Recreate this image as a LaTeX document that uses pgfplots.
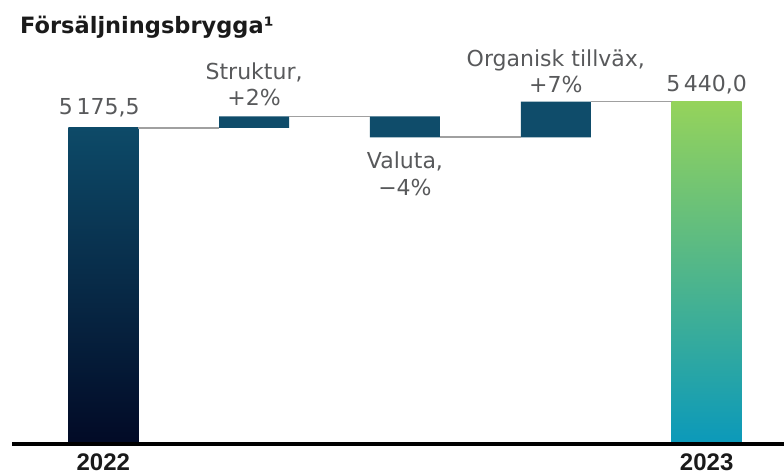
\documentclass[border=0pt]{standalone}
\usepackage{pgfplots}
\pgfplotsset{compat=1.18}
\usepackage{fontspec}
\setmainfont{DejaVu Sans}
\newfontfamily\yearfont{Liberation Sans}
\definecolor{barblue}{HTML}{0F4C6A}
\definecolor{navytop}{HTML}{0D4A68}
\definecolor{navybot}{HTML}{020A26}
\definecolor{greentop}{HTML}{95D35B}
\definecolor{greenmid}{HTML}{40AC92}
\definecolor{cyanbot}{HTML}{0B99BA}
\definecolor{lblgray}{HTML}{58595B}
\definecolor{titleblack}{HTML}{1A1A1A}
\definecolor{conngray}{HTML}{A0A0A0}
\tikzset{lbl/.style={font=\fontsize{22}{26}\selectfont, text=lblgray, anchor=base, inner sep=0pt}}
\begin{document}
\begin{tikzpicture}[x=1pt,y=1pt]
\useasboundingbox (0,0) rectangle (784,475);
\clip (0,0) rectangle (784,475);
\pgfplotsset{wf/.style={scale only axis, width=771.9pt, height=400pt,
  xmin=-0.605, xmax=4.512, ymin=2000, ymax=6024,
  at={(12pt,31.5pt)}, anchor=south west}}
% floating bars
\begin{axis}[wf, axis lines=none, ybar stacked, bar width=70pt]
\addplot[draw=none, fill=none] coordinates {(1,5175.5) (2,5080.5) (3,5080.5)};
\addplot[draw=none, fill=barblue] coordinates {(1,115) (2,210) (3,359.5)};
\end{axis}
% total bars with gradient
\begin{axis}[wf, ymin=0, ymax=4024, axis lines=none]
\addplot[ybar, bar width=70pt, bar shift=0pt, draw=none, top color=navytop, bottom color=navybot,
  y filter/.expression={y-2000}] coordinates {(0,5175.5)};
\addplot[ybar, bar width=70pt, bar shift=0pt, draw=none, top color=greentop, middle color=greenmid, bottom color=cyanbot,
  y filter/.expression={y-2000}] coordinates {(4,5440)};
\end{axis}
% connectors, labels, axis line
\begin{axis}[wf, clip=false, axis x line=bottom, axis y line=none,
  axis line style={line width=4pt, -, black},
  xtick={0,4}, xticklabels={2022,2023}, major tick length=0pt,
  xticklabel style={font=\yearfont\bfseries\fontsize{24}{28}\selectfont, anchor=base, yshift=-27pt, inner sep=0pt, text=titleblack},
  axis on top]
\addplot[conngray, line width=1.6pt, no marks] coordinates {(0.232,5175.5) (0.768,5175.5)};
\addplot[conngray, line width=1.6pt, no marks] coordinates {(1.232,5290.5) (1.768,5290.5)};
\addplot[conngray, line width=1.6pt, no marks] coordinates {(2.232,5080.5) (2.768,5080.5)};
\addplot[conngray, line width=1.6pt, no marks] coordinates {(3.232,5440) (3.768,5440)};
\node[lbl, yshift=13pt, xshift=-4pt] at (axis cs:0,5175.5) {5\,175,5};
\node[lbl, yshift=37pt] at (axis cs:1,5290.5) {Struktur,};
\node[lbl, yshift=11pt] at (axis cs:1,5290.5) {+2\%};
\node[lbl, yshift=-31pt] at (axis cs:2,5080.5) {Valuta,};
\node[lbl, yshift=-58pt] at (axis cs:2,5080.5) {−4\%};
\node[lbl, yshift=35pt] at (axis cs:3,5440) {Organisk tillväx,};
\node[lbl, yshift=9pt] at (axis cs:3,5440) {+7\%};
\node[lbl, yshift=9.7pt] at (axis cs:4,5440) {5\,440,0};
\end{axis}
\node[anchor=base west, inner sep=0pt, font=\bfseries\fontsize{22.5}{27}\selectfont, text=titleblack] at (20,441) {Försäljningsbrygga¹};
\end{tikzpicture}
\end{document}
